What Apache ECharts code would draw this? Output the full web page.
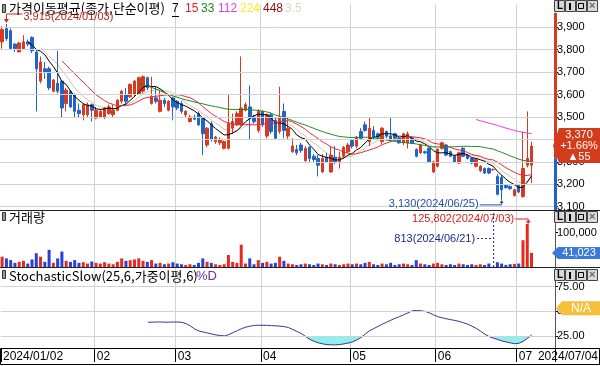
<!DOCTYPE html>
<html><head><meta charset="utf-8">
<script src="https://cdn.jsdelivr.net/npm/echarts@6/dist/echarts.min.js"></script>
<style>html,body{margin:0;padding:0;background:#fff;overflow:hidden}#c{width:600px;height:366px}</style>
</head><body><div id="c"></div>
<script>
const dates = [
'2024/01/02','2024/01/03','2024/01/04','2024/01/05','2024/01/08','2024/01/09','2024/01/10','2024/01/11','2024/01/12','2024/01/15','2024/01/16','2024/01/17','2024/01/18','2024/01/19','2024/01/22','2024/01/23','2024/01/24','2024/01/25','2024/01/26','2024/01/29','2024/01/30','2024/01/31',
'2024/02/01','2024/02/02','2024/02/05','2024/02/06','2024/02/07','2024/02/08','2024/02/13','2024/02/14','2024/02/15','2024/02/16','2024/02/19','2024/02/20','2024/02/21','2024/02/22','2024/02/23','2024/02/26','2024/02/27','2024/02/28','2024/02/29',
'2024/03/04','2024/03/05','2024/03/06','2024/03/07','2024/03/08','2024/03/11','2024/03/12','2024/03/13','2024/03/14','2024/03/15','2024/03/18','2024/03/19','2024/03/20','2024/03/21','2024/03/22','2024/03/25','2024/03/26','2024/03/27','2024/03/28','2024/03/29',
'2024/04/01','2024/04/02','2024/04/03','2024/04/04','2024/04/05','2024/04/08','2024/04/09','2024/04/11','2024/04/12','2024/04/15','2024/04/16','2024/04/17','2024/04/18','2024/04/19','2024/04/22','2024/04/23','2024/04/24','2024/04/25','2024/04/26','2024/04/29','2024/04/30',
'2024/05/02','2024/05/03','2024/05/07','2024/05/08','2024/05/09','2024/05/10','2024/05/13','2024/05/14','2024/05/16','2024/05/17','2024/05/20','2024/05/21','2024/05/22','2024/05/23','2024/05/24','2024/05/27','2024/05/28','2024/05/29','2024/05/30','2024/05/31',
'2024/06/03','2024/06/04','2024/06/05','2024/06/07','2024/06/10','2024/06/11','2024/06/12','2024/06/13','2024/06/14','2024/06/17','2024/06/18','2024/06/19','2024/06/20','2024/06/21','2024/06/24','2024/06/25','2024/06/26','2024/06/27','2024/06/28',
'2024/07/01','2024/07/02','2024/07/03','2024/07/04'];
const opens = [3835,3895,3885,3825,3790,3805,3835,3855,3790,3660,3715,3715,3615,3650,3660,3560,3615,3600,3530,3510,3510,3555,
3495,3500,3500,3515,3510,3530,3570,3600,3590,3600,3605,3615,3675,3560,3585,3525,3575,3530,3585,
3570,3560,3510,3480,3500,3515,3495,3375,3470,3390,3385,3360,3360,3450,3465,3465,3530,3545,3500,3440,
3525,3415,3510,3485,3435,3525,3415,3345,3355,3375,3305,3365,3325,3315,3255,3320,3255,3320,3300,3325,3345,
3395,3370,3435,3465,3390,3440,3425,3390,3435,3415,3425,3405,3385,3385,3405,3355,3340,3345,3360,3255,
3280,3360,3375,3345,3325,3295,3360,3330,3315,3280,3260,3270,3270,3265,3235,3230,3195,3190,3150,
3195,3145,3285,3285];
const closes = [3890,3850,3805,3805,3830,3835,3825,3795,3715,3745,3700,3630,3665,3615,3540,3620,3545,3525,3515,3555,3555,3530,
3530,3525,3540,3545,3530,3575,3615,3570,3645,3660,3675,3680,3630,3590,3570,3575,3560,3570,3545,
3540,3525,3525,3500,3490,3465,3425,3450,3400,3410,3400,3390,3470,3480,3515,3540,3555,3495,3480,3525,
3465,3510,3435,3405,3500,3440,3450,3370,3340,3350,3360,3315,3310,3285,3315,3300,3330,3300,3320,3365,3375,
3370,3410,3405,3440,3450,3410,3410,3450,3415,3400,3405,3385,3425,3425,3385,3325,3375,3340,3300,3300,
3355,3385,3330,3325,3300,3340,3325,3315,3295,3310,3280,3250,3250,3265,3155,3175,3185,3180,3175,
3165,3270,3315,3370];
const lows = [3805,3840,3800,3790,3790,3800,3815,3785,3525,3650,3670,3620,3610,3605,3495,3525,3540,3500,3500,3485,3500,3480,
3490,3495,3490,3510,3495,3525,3560,3555,3585,3590,3600,3605,3620,3555,3560,3520,3545,3525,3485,
3530,3515,3500,3475,3485,3460,3330,3365,3390,3380,3375,3355,3355,3425,3460,3460,3525,3400,3470,3430,
3455,3405,3425,3400,3425,3405,3400,3340,3330,3340,3300,3300,3300,3235,3250,3295,3250,3290,3270,3315,3340,
3360,3360,3400,3435,3370,3400,3400,3380,3405,3390,3395,3380,3375,3360,3380,3320,3335,3335,3295,3250,
3275,3355,3325,3320,3295,3290,3320,3310,3290,3275,3255,3245,3245,3260,3150,3130,3180,3175,3145,
3160,3140,3275,3205];
const highs = [3905,3915,3895,3830,3835,3865,3845,3860,3800,3770,3745,3725,3670,3795,3665,3630,3620,3605,3560,3560,3565,3560,
3545,3535,3545,3555,3555,3580,3620,3630,3650,3665,3680,3685,3680,3680,3635,3620,3585,3575,3590,
3575,3570,3530,3510,3510,3525,3500,3455,3480,3415,3410,3395,3600,3515,3525,3770,3565,3640,3510,3535,
3530,3515,3520,3495,3635,3560,3495,3405,3375,3385,3370,3370,3335,3330,3335,3340,3370,3370,3345,3370,3385,
3400,3415,3450,3480,3500,3460,3430,3455,3440,3500,3430,3410,3430,3435,3410,3360,3380,3350,3365,3305,
3360,3390,3380,3350,3330,3345,3365,3335,3320,3315,3285,3275,3275,3270,3245,3240,3200,3195,3180,
3200,3435,3525,3390];
const volumes = [30000,25000,20000,12000,15000,18000,10000,22000,40000,30000,15000,50000,12000,25000,45000,18000,15000,20000,12000,14000,10000,16000,
12000,10000,14000,10000,8000,15000,25000,18000,20000,22000,25000,18000,15000,20000,10000,12000,8000,10000,14000,
10000,8000,6000,8000,6000,12000,25000,15000,12000,8000,6000,8000,35000,15000,12000,65000,10000,25000,8000,20000,
12000,15000,10000,12000,30000,18000,10000,8000,6000,8000,10000,8000,6000,10000,8000,6000,10000,8000,6000,8000,10000,
8000,10000,8000,12000,15000,8000,6000,10000,8000,12000,6000,8000,10000,8000,6000,20000,10000,8000,6000,10000,
12000,8000,6000,8000,6000,10000,8000,6000,8000,6000,8000,6000,10000,813,14000,10000,6000,8000,9000,
10000,78000,125802,41023];
const stochD = [null,null,null,null,null,null,null,null,null,null,null,null,null,null,null,null,null,null,null,null,null,null,
null,null,null,null,null,null,null,null,null,null,null,null,38.9,39,39.2,39.2,39,39,39.2,
39.2,38.8,37.5,35,32,30,29,28,27,26,25.5,25,26.5,28.5,30.5,32.5,34,35,35.7,35.9,
35.9,35.8,35.5,35.3,35,34.5,33.5,31.5,29.5,27.5,24.5,21.5,19.5,18,17,16.2,16,16,16.3,17,17.8,
19,21,23.5,27,30.4,32.5,34.8,37,39,41,43,44.6,46.5,48.5,50.5,50.8,50.6,50,48.5,46.5,
44.6,43.5,42.5,41.6,40.8,39.8,38.5,37,35,32.8,30,27,24.5,22.8,21.5,20,19,18,17.2,
17.5,19.5,22.5,26];
const priceTicks = [3100,3200,3300,3400,3500,3600,3700,3800,3900];
const volumeTicks = [100000];
const stochTicks = [25,50,75];
const maPeriods = [7,10,15,33,112];
const maColors = ['#000000','#d8c3a0','#e8283c','#228b22','#e040e0'];

const UP = '#d63a20', DOWN = '#2064c8', VUP = '#e42a1e', VDOWN = '#2a40d4';
const FONT = 'Liberation Sans';
const KFONT = '"Noto Sans CJK KR"';
const PAD = 5;
const cats = dates.concat(Array(PAD).fill(''));
const n = dates.length;
const ohlc = dates.map((d,i)=>[opens[i],closes[i],lows[i],highs[i]]);
function ma(p){return closes.map((c,i)=>{if(i<p-1)return '-';let s=0;for(let k=i-p+1;k<=i;k++)s+=closes[k];return +(s/p).toFixed(2);});}
const monthStart = i => i>0 && i<n && dates[i].slice(5,7)!==dates[i-1].slice(5,7);
const fmt = v => v.toLocaleString('en-US');

function xAx(gi, show){
  return {type:'category',gridIndex:gi,data:cats,boundaryGap:true,
    axisLine:{show:false},
    axisTick:{show:show,interval:(i)=>i===0||monthStart(i),length:14,lineStyle:{color:'#000'}},
    axisLabel:{show:show,interval:(i)=>i===0||monthStart(i),formatter:(v,i)=>i===0?v:v.slice(5,7),align:'left',color:'#000',fontSize:12,fontFamily:FONT,margin:3},
    splitLine:{show:true,interval:(i)=>monthStart(i),lineStyle:{color:'#d2d2d2',width:1}}};
}
function yAx(gi,min,max,ticks,f){
  return {type:'value',gridIndex:gi,position:'right',min:min,max:max,
    axisLine:{show:false},
    axisTick:{show:true,customValues:ticks,length:3,lineStyle:{color:'#000'}},
    axisLabel:{customValues:ticks,formatter:f,color:'#000',fontSize:11,fontFamily:FONT,margin:2},
    splitLine:{show:false}};
}
const gridLine = vals => ({silent:true,symbol:['none','none'],label:{show:false},lineStyle:{color:'#d2d2d2',type:'solid',width:1},data:vals.map(v=>({yAxis:v})),animation:false});

const stochBase = stochD.map(v=>v==null?'-':Math.min(v,25));
const stochFill = stochD.map(v=>v==null?'-':(v<25?25-v:0));

const series = [
  {type:'candlestick',xAxisIndex:0,yAxisIndex:0,data:ohlc,barWidth:3,
   itemStyle:{color:UP,color0:DOWN,borderColor:UP,borderColor0:DOWN,borderWidth:1},
   markLine:gridLine(priceTicks),z:3}
];
maPeriods.forEach((p,k)=>series.push({type:'line',xAxisIndex:0,yAxisIndex:0,data:ma(p),showSymbol:false,symbol:'none',
  lineStyle:{color:maColors[k],width:1},z:k===1?2:4}));
series.push({type:'bar',xAxisIndex:1,yAxisIndex:1,barWidth:3,
  data:volumes.map((v,i)=>({value:v,itemStyle:{color:closes[i]>=opens[i]?VUP:VDOWN}}))});
series.push({type:'line',xAxisIndex:2,yAxisIndex:2,data:stochBase,stack:'st',symbol:'none',lineStyle:{width:0},z:1});
series.push({type:'line',xAxisIndex:2,yAxisIndex:2,data:stochFill,stack:'st',symbol:'none',lineStyle:{width:0},areaStyle:{color:'#8cf0ec',opacity:1},z:1});
series.push({type:'line',xAxisIndex:2,yAxisIndex:2,data:stochD.map(v=>v==null?'-':v),symbol:'none',lineStyle:{color:'#4a2c8c',width:1},z:3,
  markLine:gridLine(stochTicks)});

const chart = echarts.init(document.getElementById('c'),null,{renderer:'canvas',width:600,height:366});
chart.setOption({
  animation:false,backgroundColor:'#fff',
  grid:[{left:0,right:45,top:4,height:206},{left:0,right:45,top:210,height:57},{left:0,right:45,top:268,height:80}],
  xAxis:[xAx(0,false),xAx(1,false),xAx(2,true)],
  yAxis:[yAx(0,3085,4004,priceTicks,fmt),yAx(1,0,166000,volumeTicks,fmt),yAx(2,12.8,94,stochTicks,v=>v.toFixed(2))],
  series:series
});

const P = (xi,yi,i,v)=>chart.convertToPixel({xAxisIndex:xi,yAxisIndex:yi},[i,v]);
const Y = (yi,v)=>chart.convertToPixel({yAxisIndex:yi},v);
const g = [];
const txt = (x,y,s,o)=>g.push({type:'text',x:x,y:y,z:30,style:Object.assign({text:s,fill:'#000',font:'12px '+FONT,textVerticalAlign:'middle'},o||{})});
const ln = (x1,y1,x2,y2,c,w,dash)=>g.push({type:'line',shape:{x1:x1,y1:y1,x2:x2,y2:y2},style:{stroke:c,lineWidth:w||1,lineDash:dash||null},z:20});
const rc = (x,y,w,h,fill,stroke)=>g.push({type:'rect',shape:{x:x,y:y,width:w,height:h},style:{fill:fill,stroke:stroke||null,lineWidth:1},z:20});
const poly = (pts,fill)=>g.push({type:'polygon',shape:{points:pts},style:{fill:fill},z:21});

// right price axis bar
const prevClose = closes[n-2], last = closes[n-1];
const yPrev = Y(0,prevClose);
rc(554,13,3,yPrev-13,UP); rc(554,yPrev,3,210-yPrev,DOWN);
// separators
ln(0,210.5,600,210.5,'#222'); ln(0,267.5,600,267.5,'#222');
ln(555.5,211,555.5,348,'#555');
g.push({type:'rect',shape:{x:0.5,y:348.5,width:599,height:16},style:{fill:null,stroke:'#000',lineWidth:1},z:20});
// buttons
[0,211,269].forEach(by=>{
  [554,565,576,587].forEach((bx,k)=>{
    rc(bx+0.5,by+0.5,10,11,'#d9d9d9','#444');
    if(k===0) txt(bx+3,by+6.5,'L',{font:'bold 10px '+FONT});
    if(k===1) rc(bx+4,by+3,2,7,'#000');
    if(k===2) rc(bx+2.5,by+3.5,5,5,null,'#000');
    if(k===3) txt(bx+2,by+6,'×',{font:'bold 11px '+FONT,fill:'#666'});
  });
});
// legends
rc(2.5,4.5,3,8,'#999','#333');
txt(9,8.5,'가격이동평균(종가,단순이평)',{font:'13px '+KFONT});
txt(172,9,'7',{font:'12px '+FONT}); ln(172,16.5,179,16.5,'#000');
txt(185,9,'15',{font:'12px '+FONT,fill:'#e02030'});
txt(201,9,'33',{font:'12px '+FONT,fill:'#1f8a1f'});
txt(218,9,'112',{font:'12px '+FONT,fill:'#e040e0'});
txt(240,9,'224',{font:'12px '+FONT,fill:'#f0f020'});
txt(263,9,'448',{font:'12px '+FONT,fill:'#8b1010'});
txt(285,9,'3.5',{font:'12px '+FONT,fill:'#e0d8c8'});
rc(2.5,212.5,3,8,'#999','#333');
txt(9,217,'거래량',{font:'13px '+KFONT});
rc(2.5,270.5,3,8,'#999','#333');
txt(9,276,'StochasticSlow(25,6,가중이평,6)',{font:'13px '+KFONT});
txt(196,276,'%D',{font:'13px '+FONT,fill:'#7030a0'});
txt(598,357,dates[n-1],{font:'12px '+FONT,textAlign:'right'});

// price badge
const yl = Y(0,last);
poly([[553,yl],[559,yl-18],[600,yl-18],[600,yl+17],[559,yl+17]],'#d23c1c');
const pct = ((last-prevClose)/prevClose*100).toFixed(2);
txt(579,yl-11,fmt(last),{font:'11px '+FONT,fill:'#fff',textAlign:'center'});
txt(579,yl,'+'+pct+'%',{font:'11px '+FONT,fill:'#fff',textAlign:'center'});
txt(579,yl+11,'▲'+(last-prevClose),{font:'11px '+FONT,fill:'#fff',textAlign:'center'});
// volume badge
const yv = Y(1,volumes[n-1]);
poly([[552,yv],[558,yv-6],[600,yv-6],[600,yv+6],[558,yv+6]],'#3a7ad8');
txt(579,yv,fmt(volumes[n-1]),{font:'11px '+FONT,fill:'#fff',textAlign:'center'});
// stoch badge
const ys = Y(2,50)-3;
poly([[556,ys],[562,ys-7],[600,ys-7],[600,ys+7],[562,ys+7]],'#f5c03a');
txt(581,ys,'N/A',{font:'12px '+FONT,fill:'#fff',textAlign:'center'});

// annotations: max high
let hi=0; highs.forEach((h,i)=>{if(h>highs[hi])hi=i;});
const ph = P(0,0,hi,highs[hi]);
ln(ph[0],14,ph[0]+16,14,'#c0301c'); ln(ph[0],14,ph[0],ph[1]-4,'#c0301c');
poly([[ph[0]-2.5,ph[1]-5],[ph[0]+2.5,ph[1]-5],[ph[0],ph[1]-1]],'#c0301c');
txt(ph[0]+17,17,fmt(highs[hi])+'('+dates[hi]+')',{font:'11px '+FONT,fill:'#b8281c'});
// min low
let lo=0; lows.forEach((l,i)=>{if(l<lows[lo])lo=i;});
const pl = P(0,0,lo,lows[lo]);
ln(pl[0]-22,pl[1]+5,pl[0],pl[1]+5,'#2050a8'); ln(pl[0],pl[1]+5,pl[0],pl[1]+2,'#2050a8');
poly([[pl[0]-2,pl[1]+3],[pl[0]+2,pl[1]+3],[pl[0],pl[1]]],'#2050a8');
txt(pl[0]-23,pl[1]+4,fmt(lows[lo])+'('+dates[lo]+')',{font:'11px '+FONT,fill:'#2050a8',textAlign:'right'});
// max volume
let vh=0; volumes.forEach((v,i)=>{if(v>volumes[vh])vh=i;});
const pv = P(1,1,vh,volumes[vh]);
ln(pv[0]-12,219,pv[0]+1,219,'#d02020'); ln(pv[0]+1,219,pv[0]+1,pv[1]-3,'#d02020');
poly([[pv[0]-1.5,pv[1]-3],[pv[0]+3.5,pv[1]-3],[pv[0]+1,pv[1]]],'#d02020');
txt(pv[0]-13,219,fmt(volumes[vh])+'('+dates[vh]+')',{font:'11px '+FONT,fill:'#d02020',textAlign:'right'});
// min volume
let vl=0; volumes.forEach((v,i)=>{if(v<volumes[vl])vl=i;});
const pm = P(1,1,vl,0);
ln(pm[0]-16,238.5,pm[0],238.5,'#1a2a90',1,[2,2]); ln(pm[0]+0.5,213,pm[0]+0.5,267,'#1a2a90',1,[2,2]);
txt(pm[0]-18,238.5,fmt(volumes[vl])+'('+dates[vl]+')',{font:'11px '+FONT,fill:'#1a2a90',textAlign:'right'});

chart.setOption({graphic:g});
</script></body></html>
